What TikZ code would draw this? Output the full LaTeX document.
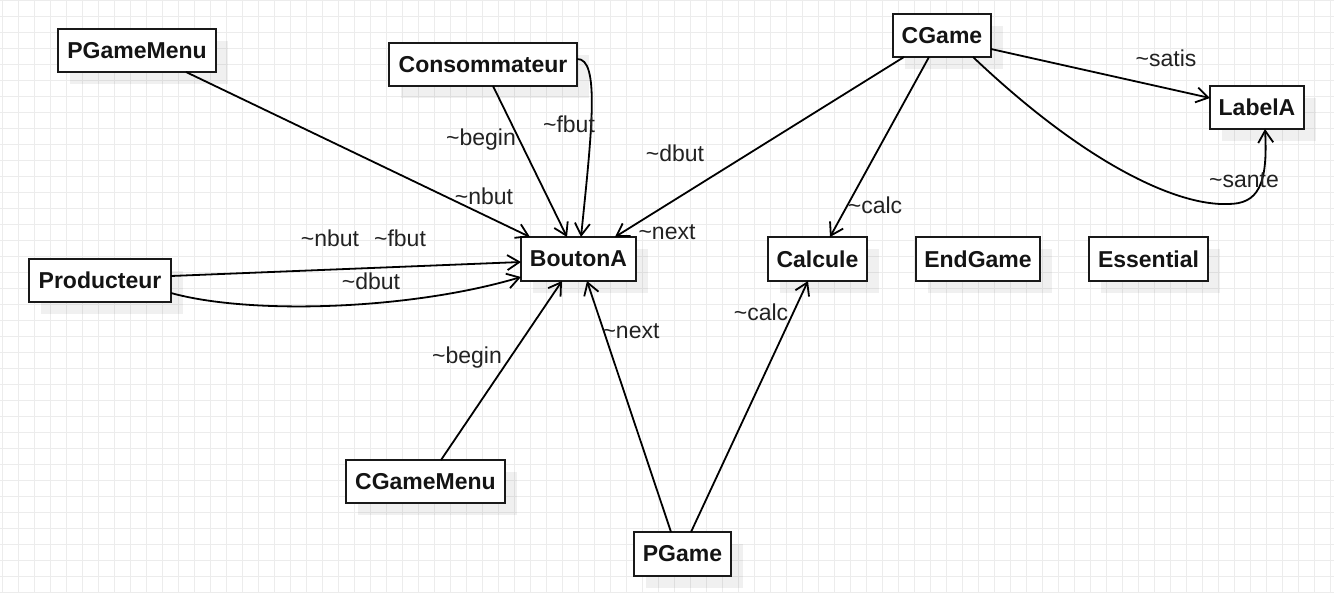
\documentclass[tikz,border=0pt]{standalone}
\usepackage{fontspec}
\setmainfont{Liberation Sans}
\usetikzlibrary{arrows.meta,calc,shadows}
\definecolor{gridc}{RGB}{236,236,236}
\definecolor{txt}{RGB}{34,34,34}
\begin{document}
\begin{tikzpicture}[x=1pt,y=-1pt,
  box/.style={draw=black!90,line width=2pt,fill=white,inner sep=0pt,outer sep=0pt,
    text=black!92,font=\fontsize{23}{27}\selectfont\bfseries,
    general shadow={fill=black,fill opacity=0.06,shadow xshift=12pt,shadow yshift=-12pt}},
  edge/.style={line width=1.8pt,-{Straight Barb[length=12pt,width=15pt]}},
  lbl/.style={font=\fontsize{23}{27}\selectfont,text=txt,inner sep=0pt}]
\useasboundingbox (0,0) rectangle (1334,592);
\fill[white] (0,0) rectangle (1334,592);
\foreach \i in {0,...,83} \draw[gridc,line width=1pt] ({2.7+16*\i},0) -- ({2.7+16*\i},592);
\foreach \j in {0,...,37} \draw[gridc,line width=1pt] (0,{16*\j}) -- (1334,{16*\j});

% boxes
\node[box,minimum width=158pt,minimum height=43pt] (pgm) at (137,50.5) {PGameMenu};
\node[box,minimum width=188pt,minimum height=43pt] (con) at (483,64.5) {Consommateur};
\node[box,minimum width=98pt,minimum height=43pt] (cg) at (942,35.5) {CGame};
\node[box,minimum width=94pt,minimum height=43pt] (lab) at (1257,107.5) {LabelA};
\node[box,minimum width=142pt,minimum height=43pt] (pro) at (100,280.5) {Producteur};
\node[box,minimum width=115pt,minimum height=44pt] (bta) at (578.5,259) {BoutonA};
\node[box,minimum width=99pt,minimum height=44pt] (cal) at (817.5,259) {Calcule};
\node[box,minimum width=124pt,minimum height=44pt] (endg) at (978,259) {EndGame};
\node[box,minimum width=119pt,minimum height=44pt] (ess) at (1148.5,259) {Essential};
\node[box,minimum width=159pt,minimum height=43pt] (cgm) at (425.5,481.5) {CGameMenu};
\node[box,minimum width=97pt,minimum height=44pt] (pg) at (682.5,554) {PGame};

% connectors
\draw[edge] ($(pgm.south west)+(128,0)$) -- ($(bta.north west)+(9,0)$);
\draw[edge] ($(con.south west)+(104,0)$) -- ($(bta.north west)+(46,0)$);
\draw[edge] ($(con.north east)+(0,16)$) .. controls +(23,-1) and +(11,-107) .. ($(bta.north west)+(60,0)$);
\draw[edge] ($(cg.south west)+(11,0)$) -- ($(bta.north west)+(94,0)$);
\draw[edge] ($(cg.south west)+(36,0)$) -- ($(cal.north west)+(62,0)$);
\draw[edge] ($(cg.north east)+(0,35)$) -- ($(lab.north west)+(0,12)$);
\coordinate (santelow) at (1228,204);
\draw[edge] ($(cg.south west)+(80,0)$) .. controls +(117,111) and +(-48,2) .. (santelow)
  .. controls +(30,0) and +(3,56) .. ($(lab.south west)+(55,0)$);
\draw[edge] ($(pro.north east)+(0,17)$) -- ($(bta.north west)+(0,25)$);
\draw[edge] ($(pro.north east)+(0,34)$) .. controls +(79,22) and +(-111,33) .. ($(bta.north west)+(0,40)$);
\draw[edge] ($(cgm.north west)+(95,0)$) -- ($(bta.south west)+(41,0)$);
\draw[edge] ($(pg.north west)+(37,0)$) -- ($(bta.south west)+(66,0)$);
\draw[edge] ($(pg.north west)+(57,0)$) -- ($(cal.south west)+(40,0)$);

% labels
\node[lbl] (l1) at (484,196) {\textasciitilde nbut};
\node[lbl] (l2) at (481,140) {\textasciitilde begin};
\node[lbl] (l3) at (569,124) {\textasciitilde fbut};
\node[lbl] (l4) at (675,153) {\textasciitilde dbut};
\node[lbl] (l5) at (667,232) {\textasciitilde next};
\node[lbl] (l6) at (875,205) {\textasciitilde calc};
\node[lbl] (l7) at (1166,58) {\textasciitilde satis};
\node[lbl] (l8) at (1244,180) {\textasciitilde sante};
\node[lbl] (l9) at (330,238) {\textasciitilde nbut};
\node[lbl] (l10) at (400,238) {\textasciitilde fbut};
\node[lbl] (l11) at (371,281) {\textasciitilde dbut};
\node[lbl] (l12) at (467,358) {\textasciitilde begin};
\node[lbl] (l13) at (631,331) {\textasciitilde next};
\node[lbl] (l14) at (761,312) {\textasciitilde calc};
\end{tikzpicture}
\end{document}
